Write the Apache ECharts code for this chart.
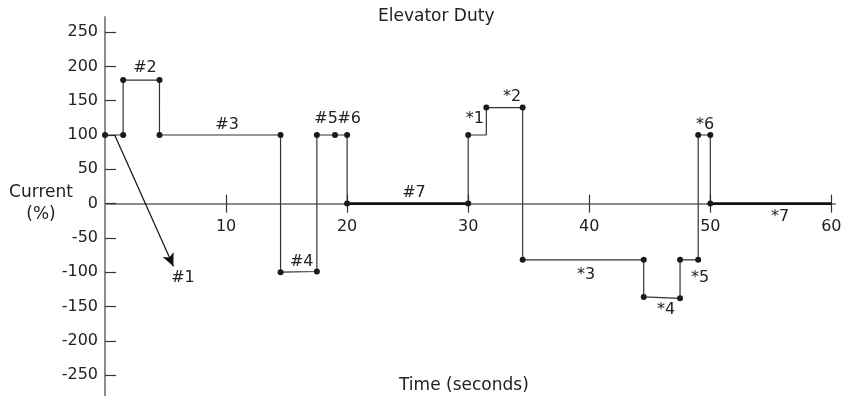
<!DOCTYPE html>
<html>
<head>
<meta charset="utf-8">
<title>Elevator Duty</title>
<script src="https://cdn.jsdelivr.net/npm/echarts@6/dist/echarts.min.js"></script>
<style>
  html, body { margin: 0; padding: 0; background: #fff; }
  #chart { width: 845px; height: 396px; }
</style>
</head>
<body>
<div id="chart"></div>
<script>
// Current profile of one elevator duty cycle: [time (s), current (%)]
const profile = [
  [0, 100], [1.5, 100], [1.5, 180], [4.5, 180], [4.5, 100], [14.5, 100],
  [14.5, -100], [17.5, -99], [17.5, 100], [19, 100], [20, 100], [20, 0],
  [30, 0], [30, 100], [31.5, 100], [31.5, 140], [34.5, 140], [34.5, -82],
  [44.5, -82], [44.5, -136], [47.5, -138], [47.5, -82], [49, -82], [49, 100],
  [50, 100], [50, 0]
];

// Break points marked with a dot
const knots = [
  [0, 100], [1.5, 100], [1.5, 180], [4.5, 180], [4.5, 100], [14.5, 100],
  [14.5, -100], [17.5, -99], [17.5, 100], [19, 100], [20, 100], [20, 0],
  [30, 0], [30, 100], [31.5, 140], [34.5, 140], [34.5, -82], [44.5, -82],
  [44.5, -136], [47.5, -138], [47.5, -82], [49, -82], [49, 100], [50, 100],
  [50, 0]
];

// Standstill intervals (zero current)
const idleUp = [[20, 0], [30, 0]];
const idleDown = [[50, 0], [60, 0]];

// Segment names and where they sit
const segmentNames = ['#1', '#2', '#3', '#4', '#5', '#6', '#7',
                      '*1', '*2', '*3', '*4', '*5', '*6', '*7'];
const segmentAt = [
  [6.44, -108.7], [3.3, 197.4], [10.08, 114.3], [16.25, -85], [18.26, 123],
  [20.16, 123], [25.52, 15.2], [30.56, 123], [33.62, 155.1], [39.73, -104.4],
  [46.34, -155.4], [49.15, -108.7], [49.56, 114.3], [55.76, -19.8]
];

// Pointer from the start of the cycle to the "#1" note
const pointerFrom = [0.8, 100];
const pointerTo = [5.65, -91.4];

// Tick labels
const timeTicks = [10, 20, 30, 40, 50, 60];
const currentTicks = [-250, -200, -150, -100, -50, 0, 50, 100, 150, 200, 250];

// Value ranges of the two axes
const TIME_MAX = 60.3;
const CUR_MIN = -280;
const CUR_MAX = 272;

const FONT = 'DejaVu Sans';
const INK = '#222';
const AXIS = '#8c8c8c';
const LINE = '#333';

// Plot box (pixels)
const GRID = { left: 105, right: 10, top: 17, bottom: 0.3 };
const plotH = 396 - GRID.top - GRID.bottom;
// The time axis is lifted from the bottom edge up to current = 0
const zeroLift = -(plotH * (0 - CUR_MIN) / (CUR_MAX - CUR_MIN));

const chart = echarts.init(document.getElementById('chart'));

chart.setOption({
  animation: false,
  backgroundColor: '#fff',
  title: {
    text: 'Elevator Duty',
    left: 378,
    top: 8,
    padding: 0,
    textStyle: { fontFamily: FONT, fontSize: 17, fontWeight: 'normal', color: INK }
  },
  grid: Object.assign({ containLabel: false, outerBoundsMode: 'none' }, GRID),
  xAxis: [
    {
      type: 'value', min: 0, max: TIME_MAX, position: 'bottom', offset: zeroLift,
      axisLine: { show: true, onZero: false, lineStyle: { color: AXIS, width: 2 } },
      axisTick: { show: true, inside: false, length: 9, customValues: timeTicks,
                  lineStyle: { color: '#333', width: 1.2 } },
      axisLabel: { show: true, customValues: timeTicks, margin: 15, fontFamily: FONT, fontSize: 16, color: INK },
      splitLine: { show: false }
    },
    {
      type: 'value', min: 0, max: TIME_MAX, position: 'bottom', offset: zeroLift,
      axisLine: { show: false, onZero: false },
      axisTick: { show: true, inside: true, length: 9, customValues: timeTicks,
                  lineStyle: { color: '#333', width: 1.2 } },
      axisLabel: { show: false },
      splitLine: { show: false }
    }
  ],
  yAxis: {
    type: 'value', min: CUR_MIN, max: CUR_MAX,
    axisLine: { show: true, onZero: false, lineStyle: { color: AXIS, width: 2 } },
    axisTick: { show: true, inside: true, length: 11, customValues: currentTicks,
                lineStyle: { color: '#333', width: 1.2 } },
    axisLabel: { customValues: currentTicks, margin: 7, fontFamily: FONT, fontSize: 16, color: INK },
    splitLine: { show: false }
  },
  graphic: [
    {
      type: 'text', x: 41, y: 182,
      style: { text: 'Current\n(%)', font: '17px "DejaVu Sans"', fill: INK, lineHeight: 22, align: 'center' }
    },
    {
      type: 'text', left: 399, top: 377,
      style: { text: 'Time (seconds)', font: '17px "DejaVu Sans"', fill: INK }
    }
  ],
  series: [
    {
      name: 'current',
      type: 'line',
      data: profile,
      symbol: 'none',
      lineStyle: { color: LINE, width: 1.2 },
      z: 3,
      markLine: {
        silent: true,
        symbol: ['none', 'arrow'],
        symbolSize: [9, 13],
        label: { show: false },
        lineStyle: { color: '#111', width: 1.2, type: 'solid' },
        data: [[{ coord: pointerFrom }, { coord: pointerTo }]]
      }
    },
    {
      name: 'idle up', type: 'line', data: idleUp, symbol: 'none',
      lineStyle: { color: '#111', width: 2.6 }, z: 4
    },
    {
      name: 'idle down', type: 'line', data: idleDown, symbol: 'none',
      lineStyle: { color: '#111', width: 2.6 }, z: 4
    },
    {
      name: 'knots', type: 'scatter', data: knots,
      symbol: 'circle', symbolSize: 6,
      itemStyle: { color: '#1a1a1a', opacity: 1 }, z: 5
    },
    {
      name: 'segments', type: 'scatter',
      data: segmentNames.map((n, i) => ({ name: n, value: segmentAt[i] })),
      symbolSize: 0,
      itemStyle: { opacity: 1 },
      label: {
        show: true, position: 'inside', formatter: '{b}', opacity: 1,
        fontFamily: FONT, fontSize: 16, color: INK,
        textBorderWidth: 0, textBorderColor: 'transparent'
      },
      z: 6
    }
  ]
});
</script>
</body>
</html>
